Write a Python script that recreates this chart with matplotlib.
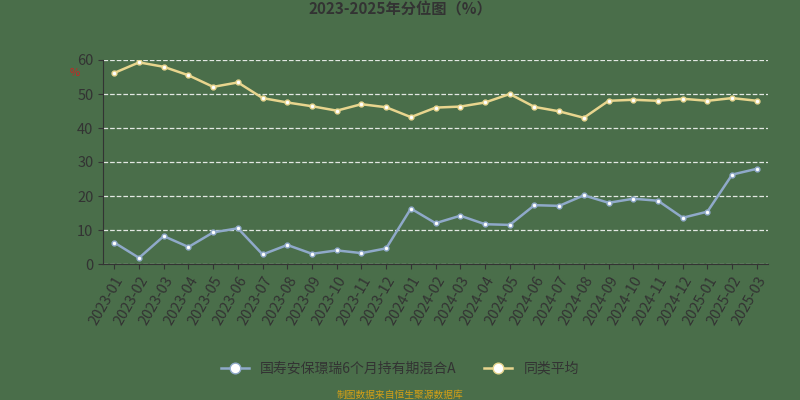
import matplotlib.pyplot as plt

plt.rcParams['font.family'] = ['Noto Sans CJK SC', 'DejaVu Sans']

months = ['2023-01', '2023-02', '2023-03', '2023-04', '2023-05', '2023-06', '2023-07',
          '2023-08', '2023-09', '2023-10', '2023-11', '2023-12', '2024-01', '2024-02',
          '2024-03', '2024-04', '2024-05', '2024-06', '2024-07', '2024-08', '2024-09',
          '2024-10', '2024-11', '2024-12', '2025-01', '2025-02', '2025-03']
fund = [6.3, 1.8, 8.2, 5.0, 9.3, 10.5, 2.8, 5.6, 3.0, 4.0, 3.2, 4.6, 16.3, 12.0,
        14.2, 11.7, 11.5, 17.3, 17.1, 20.2, 18.0, 19.2, 18.6, 13.6, 15.4, 26.3, 28.0]
avg = [56.2, 59.3, 58.0, 55.5, 52.1, 53.4, 48.8, 47.5, 46.4, 45.1, 47.0, 46.1, 43.2, 46.0,
       46.3, 47.5, 50.0, 46.2, 44.9, 43.0, 48.0, 48.3, 48.0, 48.6, 48.0, 48.8, 48.0]

bg = '#4a6e4a'
fig = plt.figure(figsize=(8, 4), dpi=100, facecolor=bg)
ax = fig.add_axes([0.129, 0.34, 0.831, 0.51], facecolor=bg)

x = range(len(months))
ax.plot(x, fund, color='#8fa9c9', lw=1.8, marker='o', ms=3.5, mfc='white', mec='#8fa9c9',
        label='国寿安保璟瑞6个月持有期混合A')
ax.plot(x, avg, color='#e8d58e', lw=1.8, marker='o', ms=3.5, mfc='white', mec='#e8d58e',
        label='同类平均')

ax.set_ylim(0, 60)
ax.set_yticks(range(0, 61, 10))
ax.set_xlim(-0.45, len(months) - 0.55)
ax.set_xticks(list(x))
ax.set_xticklabels(months, rotation=60, ha='right', rotation_mode='anchor')
ax.tick_params(colors='#333333', labelsize=10.5, labelcolor='#333333')
ax.grid(axis='y', color='white', ls='--', lw=0.9, alpha=0.85)
for s in ['top', 'right']:
    ax.spines[s].set_visible(False)
ax.spines['left'].set_color('#333333')
ax.spines['bottom'].set_color('#333333')
ax.text(-0.05, 0.92, '%', color='#cc2222', fontsize=8, transform=ax.transAxes)

fig.text(0.5, 0.965, '2023-2025年分位图（%）', ha='center', fontsize=11,
         fontweight='bold', color='#333333')
leg = fig.legend(loc='lower center', bbox_to_anchor=(0.5, 0.03), ncol=2, frameon=False,
                 fontsize=10, labelcolor='#333333', markerscale=2.2)
fig.text(0.5, 0.005, '制图数据来自恒生聚源数据库', ha='center', fontsize=7, color='#d4a017')

fig.savefig('out.png', facecolor=bg)
